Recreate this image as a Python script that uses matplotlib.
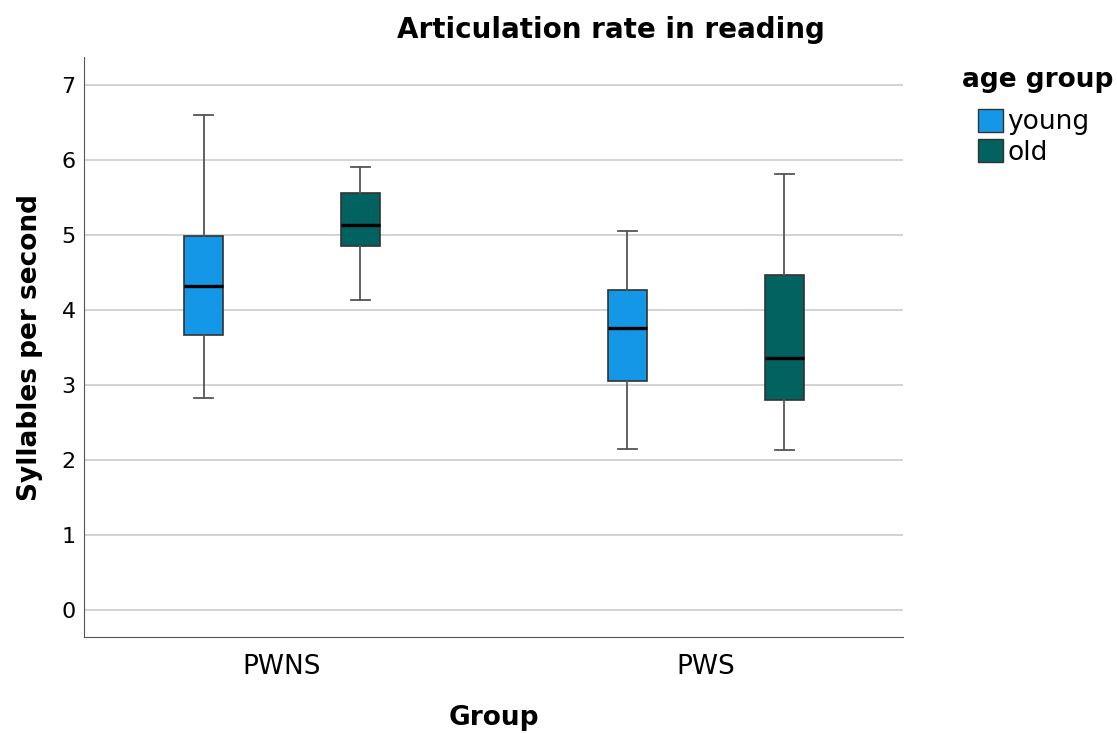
import matplotlib
matplotlib.use("Agg")
import matplotlib.pyplot as plt
from matplotlib.patches import Patch

# summary statistics per group / age group
groups = ["PWNS", "PWS"]
ages = ["young", "old"]
colors = {"young": "#1497E6", "old": "#02625F"}

whislo = {"young": [2.83, 2.15], "old": [4.13, 2.13]}
q1 = {"young": [3.67, 3.05], "old": [4.85, 2.80]}
med = {"young": [4.32, 3.76], "old": [5.13, 3.36]}
q3 = {"young": [4.99, 4.27], "old": [5.56, 4.47]}
whishi = {"young": [6.60, 5.05], "old": [5.91, 5.81]}

fig = plt.figure(figsize=(11.17, 7.33), dpi=100)
ax = fig.add_axes([0.0752, 0.131, 0.7332, 0.791])

offsets = {"young": -0.185, "old": 0.185}
for age in ages:
    stats = []
    for i in range(len(groups)):
        stats.append(dict(whislo=whislo[age][i], q1=q1[age][i], med=med[age][i],
                          q3=q3[age][i], whishi=whishi[age][i], fliers=[]))
    pos = [i + offsets[age] for i in range(len(groups))]
    ax.bxp(stats, positions=pos, widths=0.092, patch_artist=True, showfliers=False,
           boxprops=dict(facecolor=colors[age], edgecolor="#333333", linewidth=1.2),
           medianprops=dict(color="black", linewidth=2.4),
           whiskerprops=dict(color="#555555", linewidth=1.3),
           capprops=dict(color="#555555", linewidth=1.3),
           capwidths=0.046, zorder=3)

ax.set_xlim(-0.467, 1.465)
ax.set_ylim(-0.36, 7.37)
ax.set_yticks(range(0, 8))
ax.set_xticks(range(len(groups)))
ax.set_xticklabels(groups, fontsize=19)
ax.tick_params(axis="y", labelsize=16, length=0, pad=6)
ax.tick_params(axis="x", length=0, pad=12)
ax.yaxis.grid(True, color="#CCCCCC", linewidth=1.2, zorder=0)
ax.set_axisbelow(True)
for s in ["top", "right"]:
    ax.spines[s].set_visible(False)
for s in ["left", "bottom"]:
    ax.spines[s].set_color("#555555")

ax.set_ylabel("Syllables per second", fontsize=19, fontweight="bold", va="center")
ax.yaxis.set_label_coords(-0.066, 0.5)
ax.set_xlabel("Group", fontsize=19, fontweight="bold", va="center")
ax.xaxis.set_label_coords(0.5, -0.14)
fig.text(611 / 1117, 1 - 30 / 733, "Articulation rate in reading", ha="center", va="center",
         fontsize=20, fontweight="bold")

# legend with its title placed separately so the entries sit indented
fig.text(962 / 1117, 1 - 80 / 733, "age group", ha="left", va="center",
         fontsize=19, fontweight="bold")
handles = [Patch(facecolor=colors[a], edgecolor="#333333", label=a) for a in ages]
fig.legend(handles=handles, loc="upper left", bbox_to_anchor=(978 / 1117, 1 - 109 / 733),
           frameon=False, fontsize=19, handlelength=0.95, handleheight=0.95,
           handletextpad=0.15, labelspacing=0.15, borderaxespad=0, borderpad=0)

fig.savefig("out.png", dpi=100)
